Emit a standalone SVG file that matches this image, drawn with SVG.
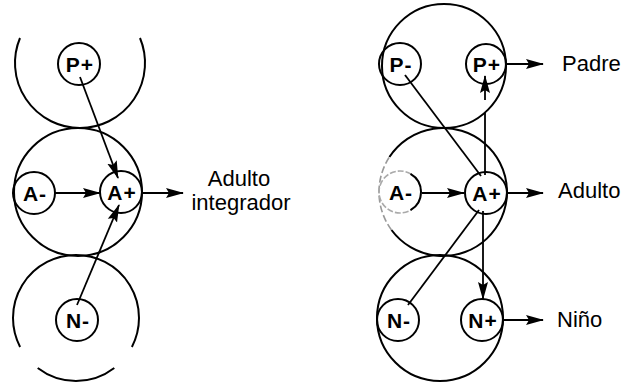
<svg xmlns="http://www.w3.org/2000/svg" width="625" height="383" viewBox="0 0 625 383">
<defs>
<marker id="ah" markerUnits="userSpaceOnUse" markerWidth="18" markerHeight="11" refX="17" refY="5.5" orient="auto">
<path d="M0,0.5 L18,5.5 L0,10.5 L3,5.5 Z" fill="#000"/>
</marker>
</defs>
<style>
.big{fill:none;stroke:#000;stroke-width:2}
.sm{fill:none;stroke:#000;stroke-width:2}
.lb{font-family:"Liberation Sans",Arial,sans-serif;font-size:21px;font-weight:bold;text-anchor:middle;letter-spacing:1px}
.tx{font-family:"Liberation Sans",Arial,sans-serif;font-size:22px}
.cn{fill:none;stroke:#000;stroke-width:1.8}
</style>
<rect width="625" height="383" fill="#fff"/>
<g id="left-ego-states">
<path class="big" d="M140,38 A65,65 0 1 1 20,38"/>
<circle class="big" cx="78" cy="192" r="64"/>
<path class="big" d="M20.1,347 A63,63 0 1 1 131.9,347"/>
<path class="big" d="M114.3,368 A63,63 0 0 1 37.7,368"/>
</g>
<g id="right-ego-states">
<circle class="big" cx="444" cy="66" r="62"/>
<path class="big" d="M389.4,157 A64,64 0 1 1 391.5,230"/>
<path d="M391.5,230 A64,64 0 0 1 389.4,157" fill="none" stroke="#999" stroke-width="1.6" stroke-dasharray="7 3"/>
<circle class="big" cx="440" cy="318" r="63"/>
</g>
<g id="connectors">
<path class="cn" d="M80,77 L118,178" marker-end="url(#ah)"/>
<path class="cn" d="M55,193 L100,193" marker-end="url(#ah)"/>
<path class="cn" d="M142,193 L183,193" marker-end="url(#ah)"/>
<path class="cn" d="M77,305 L119,205" marker-end="url(#ah)"/>
<path class="cn" d="M405,75 L481,176"/>
<path class="cn" d="M485,175 L485,113 M485,100 L485,76" marker-end="url(#ah)"/>
<path class="cn" d="M483,211 L483,299" marker-end="url(#ah)"/>
<path class="cn" d="M479,210 L408,305"/>
<path class="cn" d="M422,193 L464,193" marker-end="url(#ah)"/>
<path class="cn" d="M507,64 L543,64" marker-end="url(#ah)"/>
<path class="cn" d="M507,193 L543,193" marker-end="url(#ah)"/>
<path class="cn" d="M503,320 L543,320" marker-end="url(#ah)"/>
</g>
<g id="L-P-plus"><circle class="sm" cx="79" cy="64" r="21"/><text class="lb" x="80" y="72">P+</text></g>
<g id="L-A-minus"><circle class="sm" cx="34" cy="193" r="21"/><text class="lb" x="35" y="201">A-</text></g>
<g id="L-A-plus"><circle class="sm" cx="121" cy="192" r="21"/><text class="lb" x="122" y="200">A+</text></g>
<g id="L-N-minus"><circle class="sm" cx="77" cy="320" r="21"/><text class="lb" x="78" y="328">N-</text></g>
<g id="L-label"><text class="tx" x="239" y="186" text-anchor="middle">Adulto</text><text class="tx" x="241" y="210" text-anchor="middle">integrador</text></g>
<g id="R-P-minus"><circle class="sm" cx="400" cy="64" r="21"/><text class="lb" x="401" y="72">P-</text></g>
<g id="R-P-plus"><circle class="sm" cx="486" cy="64" r="20"/><text class="lb" x="487" y="72">P+</text></g>
<g id="R-A-minus"><circle cx="400" cy="192" r="21" fill="none" stroke="#aaa" stroke-width="1.6" stroke-dasharray="6 2"/><path d="M410.5,173.8 A21,21 0 0 1 410.5,210.2" fill="none" stroke="#000" stroke-width="2"/><text class="lb" x="401" y="200">A-</text></g>
<g id="R-A-plus"><circle class="sm" cx="486" cy="193" r="21"/><text class="lb" x="487" y="201">A+</text></g>
<g id="R-N-minus"><circle class="sm" cx="398" cy="320" r="21"/><text class="lb" x="399" y="328">N-</text></g>
<g id="R-N-plus"><circle class="sm" cx="482" cy="320" r="21"/><text class="lb" x="483" y="328">N+</text></g>
<g id="R-labels">
<text class="tx" x="562" y="71">Padre</text>
<text class="tx" x="558" y="198">Adulto</text>
<text class="tx" x="557" y="327">Niño</text>
</g>
</svg>
